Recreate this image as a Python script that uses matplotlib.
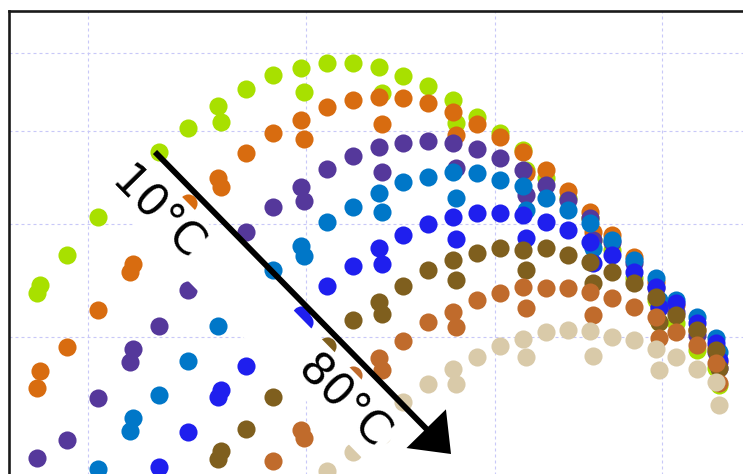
import numpy as np
import matplotlib
matplotlib.use("Agg")
import matplotlib.pyplot as plt

nan = np.nan

# column positions shared by all series, the extra (second) point sits at every 3rd column
x_cols = [37, 67, 98, 130, 159, 188, 218, 246, 273, 301, 327, 353, 379, 403,
          428, 453, 477, 500, 523, 546, 568, 590, 612, 634, 656, 676, 697, 716]
double_idx = [0, 3, 6, 9, 12, 15, 18, 21, 24, 27]

green_y = [293, 255, 217, 183, 152, 128, 106, 89, 75, 68, 63, 63, 67, 76,
           86, 100, 117, 133, 150, 178, 198, 218, 250, 278, 300, 323, 350, 368]
green_y2 = [285, 192, 122, 92, 93, 123, 170, 240, 322, 385]

orange_y = [388, 347, 310, 272, 236, 203, 178, 153, 133, 120, 107, 100, 97, 98,
            103, 112, 124, 137, 152, 170, 191, 212, 235, 257, 282, 305, 330, 347]
orange_y2 = [371, 264, 187, 139, 124, 135, 173, 232, 302, 362]

purple_y = [458, 440, 398, 362, 326, 290, 262, 232, 207, 187, 169, 156, 147, 143,
            141, 143, 149, 158, 170, 185, 200, 218, 242, 263, 288, 312, 335, 352]
purple_y2 = [nan, 349, 272, 201, 172, 168, 195, 240, 308, 368]

blue_y = [nan, nan, 469, 431, 395, 361, 326, 298, 270, 246, 222, 207, 193, 182,
          177, 172, 173, 180, 186, 198, 210, 223, 240, 260, 278, 300, 317, 338]
blue_y2 = [nan, 418, nan, 256, 212, 198, 210, 248, 300, 352]

bright_y = [nan, nan, nan, nan, 467, 432, 397, 366, 340, 315, 286, 266, 248, 235,
            224, 217, 213, 213, 215, 222, 230, 242, 255, 272, 287, 303, 323, 343]
bright_y2 = [nan, nan, 390, 322, 264, 239, 238, 263, 307, 360]

olive_y = [nan, nan, nan, nan, nan, nan, 459, 429, 397, 370, 346, 320, 302, 286,
           270, 260, 253, 248, 250, 248, 255, 262, 272, 283, 297, 315, 330, 350]
olive_y2 = [nan, nan, 451, 378, 314, 280, 270, 283, 322, 368]

copper_y = [nan, nan, nan, nan, nan, nan, nan, nan, 461, 430, 395, 375, 358, 341,
            322, 312, 300, 293, 287, 288, 288, 292, 298, 307, 317, 332, 345, 363]
copper_y2 = [nan, nan, nan, 438, 370, 327, 308, 315, 338, 383]

tan_y = [nan, nan, nan, nan, nan, nan, nan, nan, nan, nan, 471, 452, 425, 402,
         384, 369, 357, 346, 339, 332, 330, 331, 337, 340, 349, 357, 369, 382]
tan_y2 = [nan, nan, nan, nan, 435, 384, 357, 356, 370, 405]

series = [
    (green_y, green_y2, '#a8e000'),
    (orange_y, orange_y2, '#d86c10'),
    (purple_y, purple_y2, '#55389b'),
    (blue_y, blue_y2, '#0077c8'),
    (bright_y, bright_y2, '#1f1fee'),
    (olive_y, olive_y2, '#7f5f1e'),
    (copper_y, copper_y2, '#c06b2c'),
    (tan_y, tan_y2, '#d9caa9'),
]

arrow_start = (155, 152)
arrow_end = (451, 454)
grid_x = [88, 306, 495, 662]
grid_y = [53, 131, 224, 337]

fig = plt.figure(figsize=(7.43, 4.74), dpi=100)
ax = fig.add_axes([8.7 / 743, -10 / 474, (753 - 8.7) / 743, (484 - 10.5) / 474])

x_cols = np.array(x_cols, dtype=float)
x_dbl = x_cols[double_idx] + 3.5
for ys, ys2, col in series:
    xs = np.concatenate([x_cols, x_dbl])
    yy = np.concatenate([np.array(ys, dtype=float), np.array(ys2, dtype=float)])
    order = np.argsort(xs, kind='stable')
    ax.scatter(xs[order], yy[order], s=170, color=col, linewidths=0, zorder=2)

ax.set_xlim(8.7, 753)
ax.set_ylim(484, 10.5)
ax.set_xticks(grid_x)
ax.set_yticks(grid_y)
ax.tick_params(length=0, labelleft=False, labelbottom=False)
ax.set_axisbelow(True)
ax.grid(color='#c8c8f8', linestyle=(0, (2.7, 2.7)), linewidth=0.8)
for s in ['left', 'top']:
    ax.spines[s].set_linewidth(1.9)
    ax.spines[s].set_color('#1a1a1a')
for s in ['right', 'bottom']:
    ax.spines[s].set_visible(False)

# one white box behind both labels, it hides the points under the text band
ax.text(251, 306, '10°C' + ' ' * 11 + '80°C', rotation=-45.5,
        rotation_mode='anchor', ha='center', va='center', fontsize=32,
        bbox=dict(boxstyle='square,pad=0.13', fc='white', ec='none'), zorder=4)

ax.annotate('', xy=arrow_end, xytext=arrow_start,
            arrowprops=dict(arrowstyle='-|>,head_length=1.0,head_width=0.78',
                            mutation_scale=20, lw=4.2, color='black',
                            shrinkA=0, shrinkB=0, joinstyle='miter',
                            capstyle='butt'),
            zorder=5)

fig.savefig('out.png', dpi=100)
